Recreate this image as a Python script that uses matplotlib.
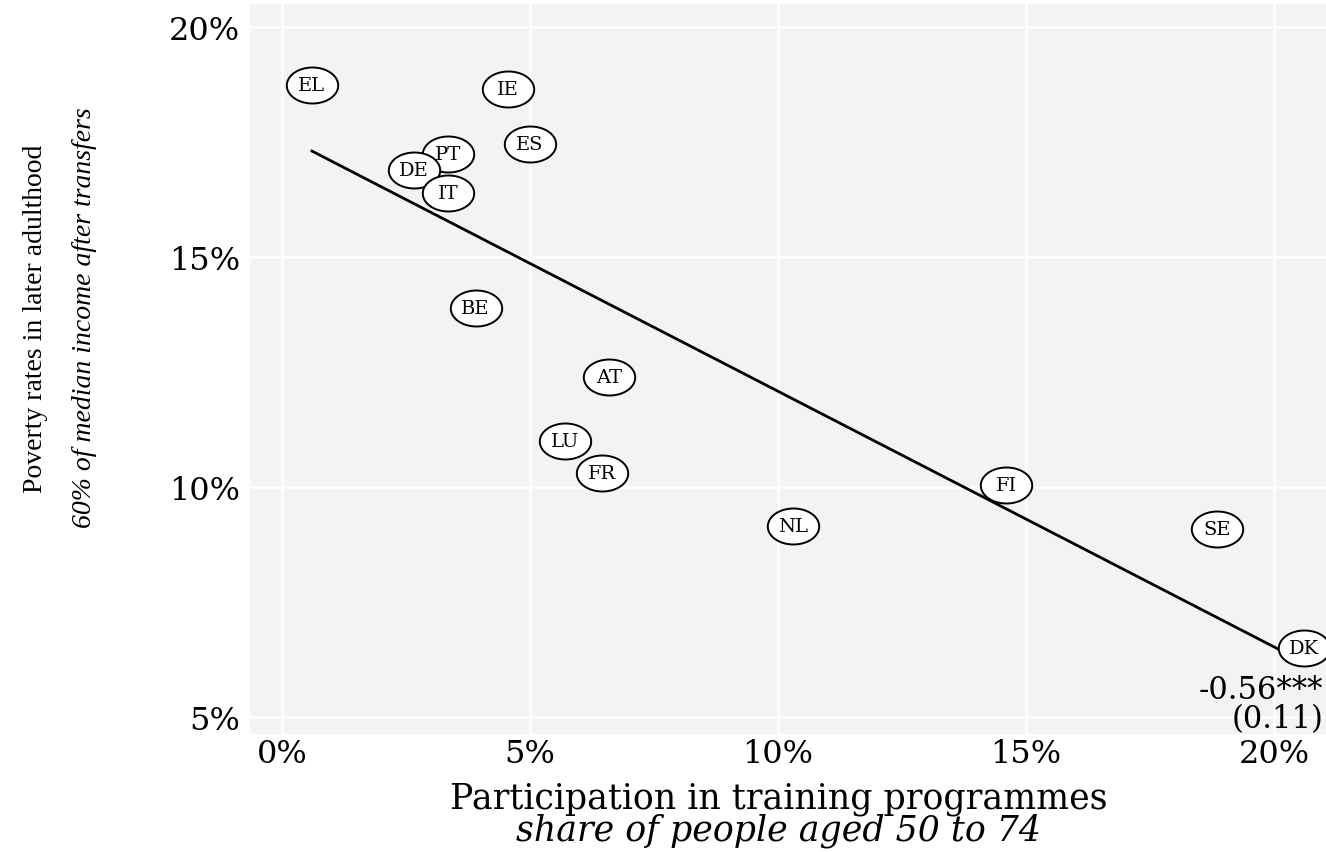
import matplotlib

matplotlib.use("Agg")
import matplotlib.pyplot as plt
import numpy as np
from matplotlib.path import Path
from matplotlib.ticker import FuncFormatter


countries = ["EL", "IE", "ES", "PT", "DE", "IT", "BE", "AT", "LU", "FR", "FI", "NL", "SE", "DK"]
training = [0.6, 4.55, 5.0, 3.35, 2.65, 3.35, 3.9, 6.6, 5.7, 6.45, 14.6, 10.3, 18.85, 20.6]
poverty = [18.75, 18.65, 17.45, 17.25, 16.9, 16.4, 13.9, 12.4, 11.0, 10.3, 10.05, 9.15, 9.1, 6.5]
x_ticks = [0, 5, 10, 15, 20]
y_ticks = [5, 10, 15, 20]
coef_text = "-0.56***\n(0.11)"

TICK_FONT = "DejaVu Serif"
LABEL_FONT = "Liberation Serif"


def percent(value, _pos):
    return f"{value:.0f}%"


def ellipse_marker(ratio: float) -> Path:
    theta = np.linspace(0, 2 * np.pi, 120)
    verts = np.column_stack([np.cos(theta), ratio * np.sin(theta)])
    return Path(verts, closed=True)


def main() -> None:
    figure = plt.figure(figsize=(13.26, 8.53), dpi=100)
    axis = figure.add_axes([0.1885, 0.138, 0.8115, 0.856])
    axis.set_facecolor("#f3f3f3")

    x = np.array(training)
    y = np.array(poverty)
    slope, intercept = np.polyfit(x, y, 1)
    line_x = np.array([x.min(), x.max()])
    axis.plot(line_x, intercept + slope * line_x, color="black", lw=2.0, zorder=3)

    axis.scatter(
        training, poverty, s=1369, marker=ellipse_marker(0.7),
        facecolor="white", edgecolor="black", linewidth=1.4, zorder=4,
    )
    for name, xi, yi in zip(countries, training, poverty):
        axis.text(xi, yi, name, ha="center", va="center", fontsize=14,
                  family=TICK_FONT, zorder=5)

    axis.text(
        21.0, 5.95, coef_text, ha="right", va="top", fontsize=22,
        family=TICK_FONT, linespacing=0.95, zorder=5,
    )

    axis.set_xlim(-0.65, 21.05)
    axis.set_ylim(4.63, 20.5)
    axis.set_xticks(x_ticks)
    axis.set_yticks(y_ticks)
    axis.xaxis.set_major_formatter(FuncFormatter(percent))
    axis.yaxis.set_major_formatter(FuncFormatter(percent))
    axis.grid(True, color="white", lw=1.8)
    axis.set_axisbelow(True)
    axis.tick_params(axis="x", length=0, labelsize=23, pad=3)
    axis.tick_params(axis="y", length=0, labelsize=23, pad=7)
    for label in axis.get_xticklabels() + axis.get_yticklabels():
        label.set_family(TICK_FONT)
    for spine in axis.spines.values():
        spine.set_visible(False)

    figure.text(0.587, 0.043, "Participation in training programmes",
                ha="center", va="bottom", fontsize=25, family=TICK_FONT)
    figure.text(0.587, 0.006, "share of people aged 50 to 74",
                ha="center", va="bottom", fontsize=25, family=TICK_FONT, style="italic")

    figure.text(0.027, 0.626, "Poverty rates in later adulthood",
                ha="center", va="center", rotation=90, fontsize=20, family=LABEL_FONT)
    figure.text(0.064, 0.628, "60% of median income after transfers",
                ha="center", va="center", rotation=90, fontsize=20,
                family=LABEL_FONT, style="italic")

    figure.savefig("out.png", dpi=100)
    plt.close(figure)


if __name__ == "__main__":
    main()
